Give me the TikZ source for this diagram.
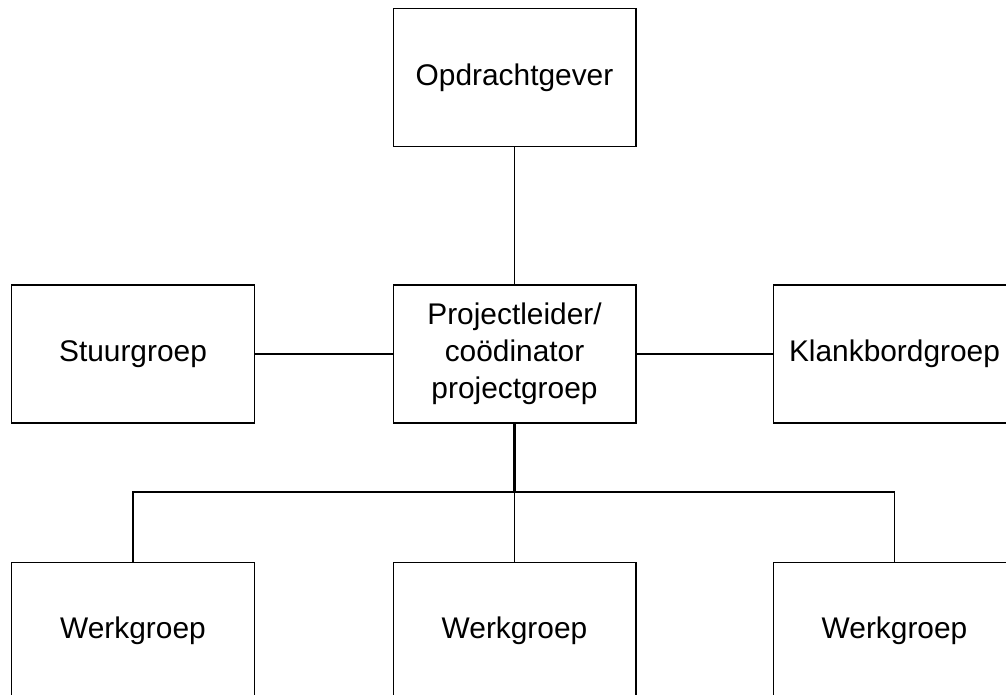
\documentclass[tikz,border=0pt]{standalone}
\usepackage{fontspec}
\setmainfont{Liberation Sans}
\begin{document}
\begin{tikzpicture}[x=0.02cm, y=-0.02cm, line width=0.6pt,
    box/.style={draw, minimum width=4.86cm, minimum height=2.76cm, inner sep=0pt,
        align=center, font=\fontsize{17}{21}\selectfont}]
    \path[use as bounding box, clip](0,0) rectangle (1006,694);
    % top row
    \node[box] (opdr) at (514.5,77.5) {Opdrachtgever};
    % middle row
    \node[box] (proj) at (514.5,354) {Projectleider/\\coödinator\\projectgroep};
    \node[box] (stuur) at (133,354) {Stuurgroep};
    \node[box] (klank) at (894.5,354) {Klankbordgroep};
    % bottom row, cut off by the page
    \foreach \x/\n in {133/1, 514.5/2, 894.5/3}
{
    \node[box] (werk\n) at (\x,631) {Werkgroep};
}
\coordinate (bus) at (514.5,492);
\draw (opdr) -- (proj);
\draw (stuur) -- (proj);
\draw (proj) -- (klank);
\draw[line width=1.4pt] (proj) -- (bus);
\draw (bus) -| (werk1);
\draw (bus) -| (werk3);
\draw (bus) -- (werk2);
\end{tikzpicture}
\end{document}
